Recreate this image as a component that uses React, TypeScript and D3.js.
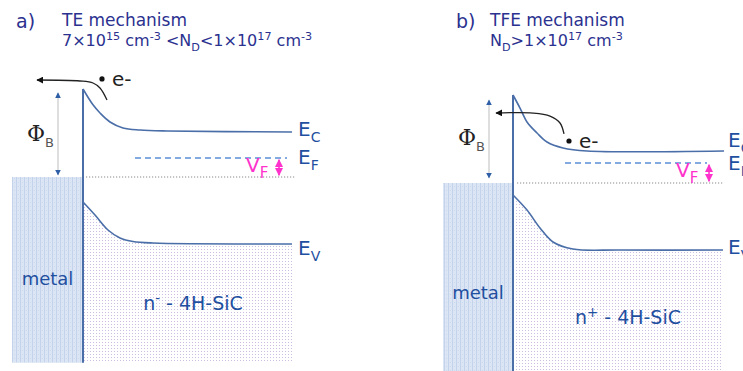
import React, { useEffect, useRef } from 'react';
import * as d3 from 'd3';

type Pt = [number, number]; // [distance from interface, energy in units of phiB]
type Seg = { t: string; s?: 'sup' | 'sub' };

// band edges (energy 0 = metal Fermi level, 1 = barrier top)
const ecA: Pt[] = [[0, 1.0], [10, 0.82], [17, 0.727], [27, 0.625], [40, 0.557], [57, 0.534], [84, 0.523], [209, 0.511]];
const evA: Pt[] = [[0, -0.284], [12, -0.432], [25, -0.602], [37, -0.693], [50, -0.733], [70, -0.75], [209, -0.761]];
const ecB: Pt[] = [[0, 1.0], [7, 0.852], [14, 0.693], [24, 0.568], [34, 0.466], [50, 0.398], [74, 0.364], [211, 0.364]];
const evB: Pt[] = [[0, -0.136], [14, -0.307], [27, -0.511], [40, -0.67], [60, -0.75], [107, -0.761], [210, -0.761]];

// electron path (from electron toward the metal)
const eA: Pt[] = [[24, 0.875], [17, 1.011], [10, 1.068], [-3, 1.091], [-46, 1.102]];
const eB: Pt[] = [[51, 0.557], [47, 0.682], [37, 0.761], [20, 0.795], [-17, 0.795]];

const efLevels = [0.216, 0.227];
const bottomLevels = [-2.11, -2.15];

const titleA: Seg[] = [{ t: 'TE mechanism' }];
const condA: Seg[] = [
  { t: '7×10' }, { t: '15', s: 'sup' }, { t: ' cm' }, { t: '-3', s: 'sup' }, { t: ' <N' }, { t: 'D', s: 'sub' },
  { t: '<1×10' }, { t: '17', s: 'sup' }, { t: ' cm' }, { t: '-3', s: 'sup' },
];
const titleB: Seg[] = [{ t: 'TFE mechanism' }];
const condB: Seg[] = [{ t: 'N' }, { t: 'D', s: 'sub' }, { t: '>1×10' }, { t: '17', s: 'sup' }, { t: ' cm' }, { t: '-3', s: 'sup' }];

const panels = [
  {
    tag: 'a)', title: titleA, cond: condA, ec: ecA, ev: evA, e: eA, ef: efLevels[0], bottom: bottomLevels[0],
    semi: [{ t: 'n' }, { t: '-', s: 'sup' }, { t: ' - 4H-SiC' }] as Seg[],
    xr: [83, 293], yr: [177, 89], tagX: 16, titleX: 62,
    dot: [19, 1.114] as Pt, phiX: -25, phiE: [0.955, 0.023], metalX: -71, phiOff: 8,
    efX: [52, 204], dotted: [3, 212], vfX: 196, semiY: 310, semiX: 110,
    lblOff: [4, 6, 11],
  },
  {
    tag: 'b)', title: titleB, cond: condB, ec: ecB, ev: evB, e: eB, ef: efLevels[1], bottom: bottomLevels[1],
    semi: [{ t: 'n' }, { t: '+', s: 'sup' }, { t: ' - 4H-SiC' }] as Seg[],
    xr: [513, 723], yr: [183, 95], tagX: 456, titleX: 490,
    dot: [56, 0.477] as Pt, phiX: -24, phiE: [0.943, 0.057], metalX: -70, phiOff: 6,
    efX: [52, 194], dotted: [4, 211], vfX: 196, semiY: 324, semiX: 115,
    lblOff: [-4, 7, 4],
  },
];

const TITLE = '#2b318f';
const BLUE = '#1f4f9f';
const BAND = '#4a6ea8';
const FONT = '"DejaVu Sans", Verdana, sans-serif';

function rich(g: any, x: number, y: number, segs: Seg[], size: number, color: string, anchor = 'start', scale = 0.66) {
  const text = g.append('text').attr('x', x).attr('y', y).attr('fill', color)
    .attr('font-family', FONT).attr('font-size', size).attr('text-anchor', anchor);
  let cur = 0;
  segs.forEach(seg => {
    const off = seg.s === 'sup' ? -size * 0.38 : seg.s === 'sub' ? size * 0.3 : 0;
    text.append('tspan').attr('dy', off - cur).attr('font-size', seg.s ? size * scale : size).text(seg.t);
    cur = off;
  });
  return text;
}

export default function App() {
  const svgRef = useRef<SVGSVGElement>(null);

  useEffect(() => {
    if (!svgRef.current) return;
    const svg = d3.select(svgRef.current);
    svg.selectAll('*').remove();

    const defs = svg.append('defs');
    const metal = defs.append('pattern').attr('id', 'metal').attr('patternUnits', 'userSpaceOnUse')
      .attr('width', 4).attr('height', 4);
    metal.append('rect').attr('width', 4).attr('height', 4).attr('fill', '#dbe5f4');
    metal.append('rect').attr('width', 1).attr('height', 4).attr('fill', '#c3d3ec');
    metal.append('rect').attr('x', 2).attr('y', 2).attr('width', 1).attr('height', 1).attr('fill', '#ccd9ef');
    const semi = defs.append('pattern').attr('id', 'semi').attr('patternUnits', 'userSpaceOnUse')
      .attr('width', 3).attr('height', 3);
    semi.append('rect').attr('width', 3).attr('height', 3).attr('fill', '#ffffff');
    semi.append('rect').attr('width', 1).attr('height', 1).attr('fill', '#cdbde2');

    ['blue', 'black', 'pink'].forEach((k, i) => {
      defs.append('marker').attr('id', `arr-${k}`).attr('viewBox', '0 0 10 10').attr('refX', 9).attr('refY', 5)
        .attr('markerWidth', i === 1 ? 7 : 5).attr('markerHeight', i === 1 ? 7 : 5)
        .attr('markerUnits', i === 1 ? 'userSpaceOnUse' : 'strokeWidth')
        .attr('orient', 'auto-start-reverse')
        .append('path').attr('d', 'M0,0 L10,5 L0,10 z')
        .attr('fill', ['#2d5ea6', '#111', '#ff33cc'][i]);
    });

    panels.forEach(p => {
      const x = d3.scaleLinear().domain([0, 210]).range(p.xr);
      const y = d3.scaleLinear().domain([0, 1]).range(p.yr);
      const g = svg.append('g');
      const line = d3.line<Pt>().x(d => x(d[0])).y(d => y(d[1])).curve(d3.curveCatmullRom.alpha(0.5));

      // titles
      g.append('text').attr('x', p.tagX).attr('y', 28).attr('font-family', FONT).attr('font-size', 19)
        .attr('fill', TITLE).text(p.tag);
      rich(g, p.titleX, 26, p.title, 17, TITLE);
      rich(g, p.titleX, 46, p.cond, 16, TITLE, 'start', 0.7);

      // metal
      g.append('rect').attr('x', x(p.metalX)).attr('y', y(0))
        .attr('width', x(0) - x(p.metalX)).attr('height', y(p.bottom) - y(0)).attr('fill', 'url(#metal)');

      // semiconductor under valence band
      const area = d3.area<Pt>().x(d => x(d[0])).y0(y(p.bottom)).y1(d => y(d[1])).curve(d3.curveCatmullRom.alpha(0.5));
      g.append('path').attr('d', area(p.ev)).attr('fill', 'url(#semi)');

      // Fermi level in metal (dotted)
      g.append('line').attr('x1', x(p.dotted[0])).attr('x2', x(p.dotted[1])).attr('y1', y(0)).attr('y2', y(0))
        .attr('stroke', '#8a8a8a').attr('stroke-width', 1.2).attr('stroke-dasharray', '1.2,1.8');

      // EF dashed
      g.append('line').attr('x1', x(p.efX[0])).attr('x2', x(p.efX[1])).attr('y1', y(p.ef)).attr('y2', y(p.ef))
        .attr('stroke', '#5a8dd6').attr('stroke-width', 1.5).attr('stroke-dasharray', '6,4');

      // bands
      g.append('path').attr('d', line(p.ec)).attr('fill', 'none').attr('stroke', BAND).attr('stroke-width', 1.6);
      g.append('path').attr('d', line(p.ev)).attr('fill', 'none').attr('stroke', BAND).attr('stroke-width', 1.6);

      // interface
      g.append('line').attr('x1', x(0)).attr('x2', x(0)).attr('y1', y(1)).attr('y2', y(p.bottom))
        .attr('stroke', BAND).attr('stroke-width', 2);

      // phi B arrow
      g.append('line').attr('x1', x(p.phiX)).attr('x2', x(p.phiX)).attr('y1', y(p.phiE[0])).attr('y2', y(p.phiE[1]))
        .attr('stroke', '#c8c8c8').attr('stroke-width', 1.2)
        .attr('marker-start', 'url(#arr-blue)').attr('marker-end', 'url(#arr-blue)');
      const phiT = g.append('text').attr('x', x(p.phiX) - 31).attr('y', y(0.5) + p.phiOff).attr('fill', '#222');
      phiT.append('tspan').attr('font-family', '"DejaVu Serif", serif').attr('font-size', 22).text('Φ');
      phiT.append('tspan').attr('dy', 6).attr('font-family', FONT).attr('font-size', 13).attr('fill', '#555').text('B');

      // electron
      g.append('path').attr('d', d3.line<Pt>().x(d => x(d[0])).y(d => y(d[1])).curve(d3.curveCatmullRom)(p.e))
        .attr('fill', 'none').attr('stroke', '#222').attr('stroke-width', 1.3).attr('marker-end', 'url(#arr-black)');
      g.append('circle').attr('cx', x(p.dot[0])).attr('cy', y(p.dot[1])).attr('r', 2.6).attr('fill', '#111');
      g.append('text').attr('x', x(p.dot[0]) + 10).attr('y', y(p.dot[1]) + 7).attr('font-family', FONT)
        .attr('font-size', 20).attr('fill', '#222').text('e-');

      // VF
      g.append('line').attr('x1', x(p.vfX)).attr('x2', x(p.vfX)).attr('y1', y(0.02)).attr('y2', y(p.ef - 0.02))
        .attr('stroke', '#ff33cc').attr('stroke-width', 1.6)
        .attr('marker-start', 'url(#arr-pink)').attr('marker-end', 'url(#arr-pink)');
      rich(g, x(p.vfX) - 33, y(p.ef) + 14, [{ t: 'V' }, { t: 'F', s: 'sub' }], 20, '#ff33cc', 'start', 0.75);

      // band labels
      const lx = x(210) + 5;
      rich(g, lx, y(p.ec[p.ec.length - 1][1]) + p.lblOff[0], [{ t: 'E' }, { t: 'C', s: 'sub' }], 20, BLUE, 'start', 0.7);
      rich(g, lx, y(p.ef) + p.lblOff[1], [{ t: 'E' }, { t: 'F', s: 'sub' }], 20, BLUE, 'start', 0.7);
      rich(g, lx, y(p.ev[p.ev.length - 1][1]) + p.lblOff[2], [{ t: 'E' }, { t: 'V', s: 'sub' }], 20, BLUE, 'start', 0.7);

      // region labels
      g.append('text').attr('x', (x(p.metalX) + x(0)) / 2).attr('y', p.semiY - 25).attr('text-anchor', 'middle')
        .attr('font-family', FONT).attr('font-size', 18).attr('fill', BLUE).text('metal');
      rich(g, x(p.semiX), p.semiY, p.semi, 19, BLUE, 'middle', 0.7);
    });
  }, []);

  return (
    <svg ref={svgRef} width={743} height={371}
      style={{ position: 'absolute', left: 0, top: 0, background: '#fff' }} />
  );
}
